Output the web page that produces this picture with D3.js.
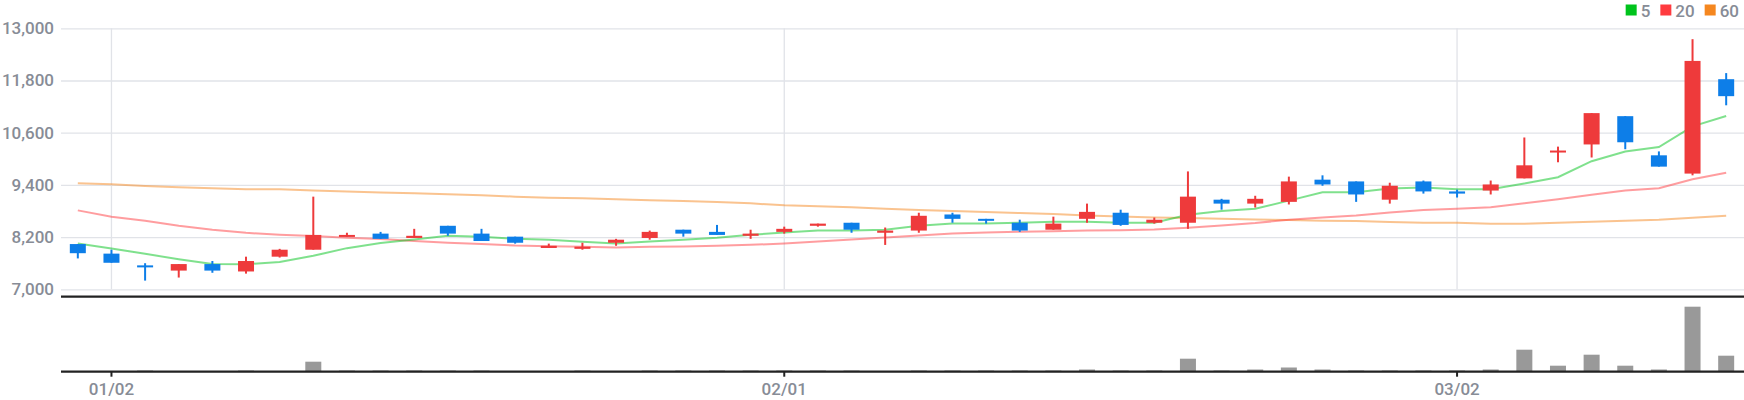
<!DOCTYPE html>
<html><head><meta charset="utf-8">
<script src="https://cdn.jsdelivr.net/npm/d3@7"></script>
<style>
body{margin:0;background:#fff;}
svg{display:block;font-family:Roboto,"Noto Sans",sans-serif;}
</style>
</head><body>
<svg id="chart" width="1744" height="400"></svg>
<script>
// ---- data ----
const dates = [
 "2022-12-29",
 "2023-01-02","2023-01-03","2023-01-04","2023-01-05","2023-01-06","2023-01-09","2023-01-10","2023-01-11","2023-01-12","2023-01-13",
 "2023-01-16","2023-01-17","2023-01-18","2023-01-19","2023-01-20","2023-01-25","2023-01-26","2023-01-27","2023-01-30","2023-01-31",
 "2023-02-01","2023-02-02","2023-02-03","2023-02-06","2023-02-07","2023-02-08","2023-02-09","2023-02-10","2023-02-13","2023-02-14",
 "2023-02-15","2023-02-16","2023-02-17","2023-02-20","2023-02-21","2023-02-22","2023-02-23","2023-02-24","2023-02-27","2023-02-28",
 "2023-03-02","2023-03-03","2023-03-06","2023-03-07","2023-03-08","2023-03-09","2023-03-10","2023-03-13","2023-03-14"
];
const openP  = [8040,7820,7550,7430,7580,7410,7750,7910,8210,8280,8180,8460,8280,8210,7950,7930,8070,8180,8370,8320,8230,8320,8460,8530,8300,8350,8720,8620,8530,8370,8620,8760,8530,8530,9060,8970,9010,9520,9480,9060,9480,9250,9270,9550,10150,10330,10980,10080,9660,11830];
const highP  = [8040,7910,7600,7580,7650,7750,7930,9130,8300,8320,8390,8460,8390,8210,8050,8070,8160,8350,8370,8480,8370,8440,8510,8530,8420,8760,8760,8620,8600,8670,8970,8830,8650,9710,9080,9150,9590,9620,9480,9450,9500,9290,9500,10490,10280,11050,10980,10170,12750,11970];
const lowP   = [7710,7610,7200,7270,7380,7360,7730,7910,8210,8160,8180,8230,8110,8050,7950,7910,8000,8140,8210,8250,8160,8280,8440,8300,8020,8300,8530,8510,8320,8370,8530,8460,8510,8390,8830,8880,8950,9380,9010,8970,9200,9110,9180,9550,9920,10030,10220,9820,9620,11230];
const closeP = [7830,7610,7530,7580,7430,7650,7910,8250,8250,8160,8230,8280,8110,8070,8000,7980,8140,8320,8280,8250,8280,8390,8510,8370,8350,8690,8620,8580,8350,8510,8780,8480,8600,9130,8970,9080,9480,9410,9180,9380,9250,9200,9410,9850,10190,11050,10380,9820,12250,11440];
const volume = [40000,40000,120000,50000,50000,120000,50000,1000000,120000,120000,120000,120000,120000,50000,50000,120000,50000,120000,120000,120000,120000,120000,120000,120000,50000,120000,120000,120000,120000,120000,220000,120000,120000,1300000,120000,220000,420000,220000,120000,120000,120000,120000,220000,2200000,600000,1700000,600000,220000,6500000,1600000];
const ma5  = [8052,7937,7815,7692,7584,7577,7630,7769,7946,8062,8145,8230,8207,8161,8138,8092,8052,8099,8138,8184,8253,8306,8353,8353,8369,8461,8514,8514,8530,8553,8553,8530,8530,8715,8800,8853,9038,9230,9230,9315,9338,9299,9299,9430,9576,9945,10169,10269,10746,10984];
const ma20 = [8814,8669,8576,8461,8369,8299,8253,8223,8184,8154,8108,8069,8039,8006,7992,7976,7960,7976,7984,7999,8022,8052,8099,8145,8191,8237,8283,8306,8322,8337,8353,8360,8376,8415,8468,8523,8600,8653,8699,8768,8823,8853,8884,8976,9068,9176,9269,9322,9530,9677];
const ma60 = [9437,9414,9377,9345,9322,9299,9299,9269,9246,9223,9207,9184,9161,9130,9107,9092,9068,9045,9030,9007,8976,8930,8907,8884,8853,8823,8799,8776,8753,8730,8699,8676,8653,8638,8622,8607,8592,8576,8568,8545,8530,8530,8507,8507,8530,8553,8576,8600,8646,8692];
const priceTicks = [7000,8200,9400,10600,11800,13000];
const dateTicks = ["2023-01-02","2023-02-01","2023-03-02"];
const dateTickLabels = ["01/02","02/01","03/02"];
const legendLabels = ["5","20","60"];

// ---- styles ----
const upColor = "#ee3a3b", downColor = "#0d7ee8";
const maColors = ["#00c31c","#ff3b3f","#f5871f"];
const textColor = "#878c96", gridColor = "#e1e3e8", axisColor = "#222";
const fontSize = 17;

const svg = d3.select("#chart");
const left = 61, right = 1743;
const x = d3.scaleBand().domain(dates).range([left, right]).padding(0);
const cx = d => x(d) + x.bandwidth()/2;
const y = d3.scaleLinear().domain([7000,13000]).range([289.3,28.3]);
const yv = d3.scaleLinear().domain([0,7400000]).range([371.7,297.7]);
const bodyW = 16;

// horizontal grid + y labels
const yAxis = d3.axisLeft(y).tickValues(priceTicks).tickFormat(d3.format(","))
  .tickSize(-(1744-left)).tickPadding(7);
const gy = svg.append("g").attr("transform",`translate(${left},0)`).call(yAxis);
gy.select(".domain").remove();
gy.selectAll(".tick line").attr("stroke",gridColor).attr("stroke-width",1.3);
gy.selectAll(".tick text").attr("fill",textColor).attr("font-size",fontSize)
  .attr("font-family","Roboto,'Noto Sans',sans-serif").attr("font-weight",500);

// vertical grid at date ticks
svg.append("g").selectAll("line").data(dateTicks).join("line")
  .attr("x1",cx).attr("x2",cx).attr("y1",y(13000)).attr("y2",y(7000))
  .attr("stroke",gridColor).attr("stroke-width",1.3);

// MA lines
const series = [ma60, ma20, ma5];
const sColors = [maColors[2], maColors[1], maColors[0]];
series.forEach((s,k)=>{
  const line = d3.line().x((v,i)=>cx(dates[i])).y(v=>y(v));
  svg.append("path").attr("d",line(s)).attr("fill","none")
    .attr("stroke",sColors[k]).attr("stroke-opacity",0.5).attr("stroke-width",2);
});

// candles
const idx = d3.range(dates.length);
const cg = svg.append("g");
cg.selectAll("line").data(idx).join("line")
  .attr("x1",i=>cx(dates[i])).attr("x2",i=>cx(dates[i]))
  .attr("y1",i=>y(highP[i])).attr("y2",i=>y(lowP[i]))
  .attr("stroke",i=>closeP[i]>=openP[i]?upColor:downColor).attr("stroke-width",2);
cg.selectAll("rect").data(idx).join("rect")
  .attr("x",i=>cx(dates[i])-bodyW/2).attr("width",bodyW)
  .attr("y",i=>y(Math.max(openP[i],closeP[i])))
  .attr("height",i=>Math.max(2, Math.abs(y(openP[i])-y(closeP[i]))))
  .attr("fill",i=>closeP[i]>=openP[i]?upColor:downColor);

// volume bars
svg.append("g").selectAll("rect").data(idx).join("rect")
  .attr("x",i=>cx(dates[i])-bodyW/2).attr("width",bodyW)
  .attr("y",i=>yv(volume[i])).attr("height",i=>yv(0)-yv(volume[i]))
  .attr("fill","#999999");

// separator line between price and volume
svg.append("line").attr("x1",left).attr("x2",1744).attr("y1",296.7).attr("y2",296.7)
  .attr("stroke",axisColor).attr("stroke-width",2.2);

// bottom axis
const xAxis = d3.axisBottom(x).tickValues(dateTicks)
  .tickFormat(d=>dateTickLabels[dateTicks.indexOf(d)]).tickSize(5).tickSizeOuter(0).tickPadding(6);
const gx = svg.append("g").attr("transform","translate(0,371.7)").call(xAxis);
gx.select(".domain").attr("stroke",axisColor).attr("stroke-width",2.2).attr("d",`M${left},0H1744`);
gx.selectAll(".tick line").attr("stroke",axisColor).attr("stroke-width",2);
gx.selectAll(".tick text").attr("fill",textColor).attr("font-size",fontSize)
  .attr("font-family","Roboto,'Noto Sans',sans-serif").attr("font-weight",500);

// legend (right-aligned, ending near the right edge)
const lg = svg.append("g");
const items = legendLabels.map((lab,k)=>{
  const r = lg.append("rect").attr("y",4.5).attr("width",11).attr("height",11).attr("fill",maColors[k]);
  const t = lg.append("text").attr("y",16.8).attr("fill",textColor).attr("font-weight",500)
    .attr("font-size",fontSize).text(lab);
  return {r,t,w:t.node().getComputedTextLength()};
});
let lx = 1739;
for (let k = items.length-1; k >= 0; k--) {
  const it = items[k];
  it.t.attr("x", lx - it.w);
  it.r.attr("x", lx - it.w - 15);
  lx = lx - it.w - 15 - 10;
}
</script>
</body></html>
